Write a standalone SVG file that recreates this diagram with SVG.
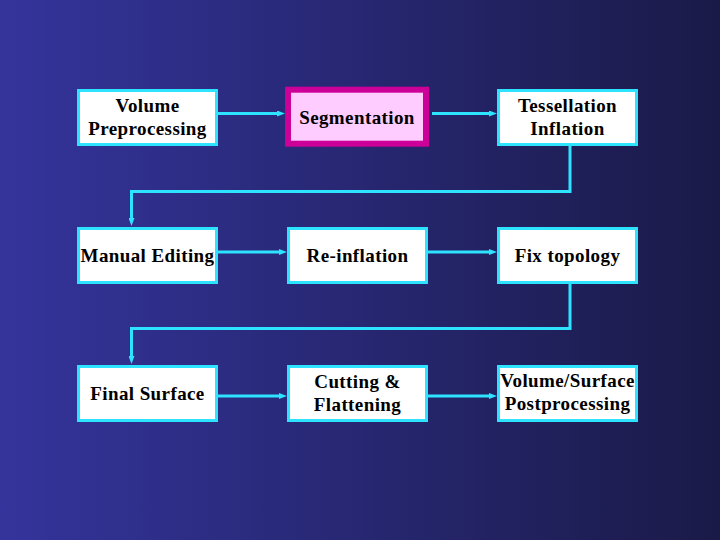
<svg xmlns="http://www.w3.org/2000/svg" width="720" height="540" viewBox="0 0 720 540">
  <defs>
    <linearGradient id="bg" x1="0" y1="0" x2="1" y2="0">
      <stop offset="0" stop-color="#34349C"/>
      <stop offset="1" stop-color="#1A1A48"/>
    </linearGradient>
    <marker id="arr" viewBox="0 0 8 6" refX="3" refY="3" markerWidth="8" markerHeight="6" markerUnits="userSpaceOnUse" orient="auto">
      <path d="M0,0 L8,3 L0,6 z" fill="#2EE3FF"/>
    </marker>
    <style>
      .box { fill: #FFFFFF; stroke: #2EE3FF; stroke-width: 3; }
      .sel { fill: #FFCCFF; stroke: #CC0099; stroke-width: 6; }
      .lbl { font-family: "Liberation Serif", "Times New Roman", serif; font-weight: bold; font-size: 19px; letter-spacing: 0.4px; fill: #000000; text-anchor: middle; }
      .con { fill: none; stroke: #2EE3FF; stroke-width: 3; marker-end: url(#arr); }
    </style>
  </defs>
  <rect x="0" y="0" width="720" height="540" fill="url(#bg)"/>

  <g id="connectors">
    <path class="con" d="M218,113.5 H280"/>
    <path class="con" d="M432,113.5 H492"/>
    <path class="con" d="M570,146 V191.5 H131.5 V221"/>
    <path class="con" d="M218,252 H282"/>
    <path class="con" d="M428,252 H492"/>
    <path class="con" d="M570,284 V328.5 H131.5 V359"/>
    <path class="con" d="M218,396 H282"/>
    <path class="con" d="M428,396 H492"/>
  </g>

  <g id="volume-preprocessing">
    <rect class="box" x="78.5" y="90.5" width="138" height="54"/>
    <text class="lbl" x="147.5" y="112">Volume</text>
    <text class="lbl" x="147.5" y="135">Preprocessing</text>
  </g>
  <g id="segmentation">
    <rect class="sel" x="288" y="89.7" width="138" height="54"/>
    <text class="lbl" x="357" y="124">Segmentation</text>
  </g>
  <g id="tessellation-inflation">
    <rect class="box" x="498.5" y="90.5" width="138" height="54"/>
    <text class="lbl" x="567.5" y="112">Tessellation</text>
    <text class="lbl" x="567.5" y="135">Inflation</text>
  </g>

  <g id="manual-editing">
    <rect class="box" x="78.5" y="228.5" width="138" height="54"/>
    <text class="lbl" x="147.5" y="262">Manual Editing</text>
  </g>
  <g id="re-inflation">
    <rect class="box" x="288.5" y="228.5" width="138" height="54"/>
    <text class="lbl" x="357.5" y="262">Re-inflation</text>
  </g>
  <g id="fix-topology">
    <rect class="box" x="498.5" y="228.5" width="138" height="54"/>
    <text class="lbl" x="567.5" y="262">Fix topology</text>
  </g>

  <g id="final-surface">
    <rect class="box" x="78.5" y="366.5" width="138" height="54"/>
    <text class="lbl" x="147.5" y="400">Final Surface</text>
  </g>
  <g id="cutting-flattening">
    <rect class="box" x="288.5" y="366.5" width="138" height="54"/>
    <text class="lbl" x="357.5" y="388">Cutting &amp;</text>
    <text class="lbl" x="357.5" y="411">Flattening</text>
  </g>
  <g id="volume-surface-postprocessing">
    <rect class="box" x="498.5" y="366.5" width="138" height="54"/>
    <text class="lbl" x="567.5" y="387">Volume/Surface</text>
    <text class="lbl" x="567.5" y="410">Postprocessing</text>
  </g>
</svg>
